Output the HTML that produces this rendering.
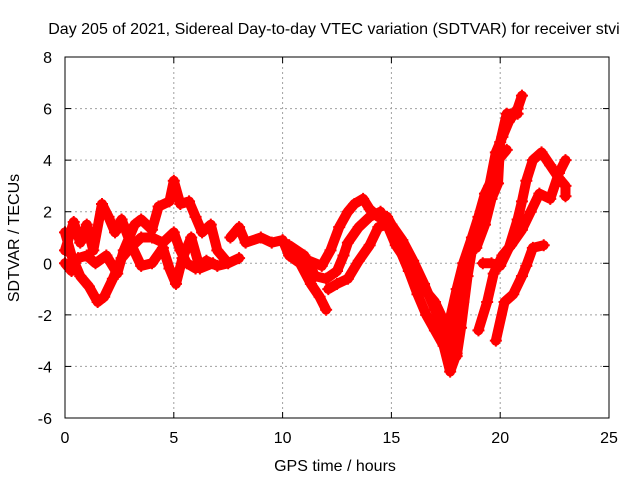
<!DOCTYPE html>
<html><head><meta charset="utf-8"><style>
body{margin:0;background:#fff}
svg{font-family:"Liberation Sans",sans-serif}
</style></head><body>
<svg id="chart" width="640" height="480">
<text x="334" y="34" font-size="16" text-anchor="middle">Day 205 of 2021, Sidereal Day-to-day VTEC variation (SDTVAR) for receiver stvi</text>
<text x="335" y="471" font-size="16" text-anchor="middle">GPS time / hours</text>
<text x="19" y="238" font-size="16" text-anchor="middle" transform="rotate(-90 19 238)">SDTVAR / TECUs</text>
<g id="grid"></g><g id="marks"></g>
<rect x="65" y="57" width="544" height="361" fill="none" stroke="#000"/>
</svg>
<script>
const xTicks=[0,5,10,15,20,25];
const yTicks=[-6,-4,-2,0,2,4,6,8];
const t1=[[0,1.2],[0.3,0.3],[0.7,-0.5],[1.1,-0.9],[1.5,-1.5],[1.8,-1.3],[2.2,-0.6],[2.6,0.2],[3,0.6],[3.5,1],[4,1],[4.5,0.8],[5,1.2],[5.3,0.5],[5.6,0],[6,-0.2],[6.5,0.1],[7,-0.1],[7.5,0],[8,0.2]];
const t2=[[0,0],[0.3,-0.3],[0.6,0.2],[1,0.3],[1.4,0],[1.9,0.3],[2.4,-0.4],[2.7,0.5],[3.2,1.5],[3.5,1.7],[4,1.3],[4.3,2.2],[4.8,2.4],[5,3.2],[5.3,2.3],[5.7,2.4],[6,1.8],[6.3,1.2],[6.7,1.5],[7,0.5],[7.4,0.1]];
const t3=[[0,0.5],[0.4,1.6],[0.7,0.8],[1,1.5],[1.3,0.5],[1.7,2.3],[2,1.8],[2.3,1.2],[2.6,1.7],[3,0.8],[3.5,-0.1],[4,0],[4.5,0.6],[4.8,-0.2],[5.1,-0.8],[5.4,0.2],[5.8,1],[6.2,-0.2],[6.8,0]];
const t4=[[7.6,1],[8,1.4],[8.3,0.8],[9,1],[9.5,0.8],[10,0.9],[10.3,0.3],[10.8,0],[11.3,-0.8],[11.7,-1.3],[12,-1.8]];
const t5=[[10.3,0.7],[11,0.3],[11.5,-0.5],[12,-0.6],[12.5,-0.3],[12.8,0.3],[13,0.8],[13.5,1.4],[14,1.8],[14.5,2],[15,1.2],[15.4,0.5],[15.8,-0.3],[16.2,-1.2],[16.6,-2],[17,-2.6],[17.4,-3.2],[17.7,-4.2],[18,-3.5],[18.3,-1.5]];
const t6=[[11.2,0.1],[11.8,-0.1],[12.2,0.5],[12.6,1.4],[13,2],[13.3,2.3],[13.7,2.5],[14,2.1],[14.4,1.8],[14.8,1.8],[15,1.5],[15.5,0.9],[16,0.1],[16.5,-0.8],[17,-1.8],[17.3,-2.4],[17.6,-3],[18,-3.6],[18.2,-2.5],[18.5,-0.5],[18.8,1],[19.1,2],[19.5,3],[19.8,4.3],[20.1,4.9],[20.4,5.5],[20.8,6],[21,6.5]];
const t7=[[12.1,-1],[12.5,-0.8],[13,-0.6],[13.5,0.1],[14,0.7],[14.4,1.4],[14.8,1.5],[15.2,0.7],[15.6,0.2],[16,-0.5],[16.5,-1],[17,-1.5],[17.5,-2.4],[17.8,-3.3],[18,-2.5],[18.3,-0.8],[18.6,0.5],[18.9,0.6],[19.3,1.5],[19.6,2.5],[19.9,3.1],[20,4.7],[20.3,5.8],[20.6,5.8],[20.8,5.8]];
const t8=[[17.6,-2.5],[18,-1],[18.3,0],[18.7,1],[19,1.8],[19.3,2.7],[19.7,3.4],[20,4.1],[20.3,4.4]];
const t9=[[19,-2.6],[19.4,-1.5],[19.7,-0.4],[20.1,0.3],[20.5,0.7],[21,1.3],[21.4,2],[21.8,2.7],[22.3,2.5],[22.7,3.5],[23,4]];
const t10=[[19.8,-3],[20.2,-1.5],[20.6,-1.2],[21,-0.5],[21.2,-0.1],[21.5,0.6],[22,0.7]];
const t11=[[19.2,0],[19.6,0],[20,-0.1],[20.4,0.6],[20.8,1.7],[21,2.4],[21.2,3.2],[21.5,4],[21.9,4.3],[22.3,3.8],[22.7,3.3],[23,3],[23,2.6]];
const tracks=[t1,t2,t3,t4,t5,t6,t7,t8,t9,t10,t11];
const NS="http://www.w3.org/2000/svg";
const X=t=>65+t*544/25, Y=v=>418-(v+6)*361/14;
const grid=document.getElementById('grid'), marks=document.getElementById('marks');
function mk(tag,attrs,parent){const e=document.createElementNS(NS,tag);for(const k in attrs)e.setAttribute(k,attrs[k]);parent.appendChild(e);return e;}
xTicks.forEach(t=>{
  if(t>0&&t<25){const g=mk('line',{x1:X(t),x2:X(t),y1:57,y2:418,stroke:'#a0a0a0','stroke-dasharray':'2,3'},grid);
  
  }
  mk('line',{x1:X(t),x2:X(t),y1:418,y2:412,stroke:'#000'},grid);
  mk('line',{x1:X(t),x2:X(t),y1:57,y2:63,stroke:'#000'},grid);
  const l=mk('text',{x:X(t),y:443,'font-size':16,'text-anchor':'middle'},grid);l.textContent=t;
  
  
});
yTicks.forEach(v=>{
  if(v>-6&&v<8){const g=mk('line',{x1:65,x2:609,y1:Y(v),y2:Y(v),stroke:'#a0a0a0','stroke-dasharray':'2,3'},grid);
  
  }
  mk('line',{x1:65,x2:71,y1:Y(v),y2:Y(v),stroke:'#000'},grid);
  mk('line',{x1:603,x2:609,y1:Y(v),y2:Y(v),stroke:'#000'},grid);
  const l=mk('text',{x:52,y:Y(v)+6,'font-size':16,'text-anchor':'end'},grid);l.textContent=v;
  
  
});
tracks.forEach(tr=>{
  const p=mk('polyline',{points:tr.map(d=>X(d[0])+','+Y(d[1])).join(' '),fill:'none',stroke:'#f00','stroke-width':10,'stroke-linejoin':'round','stroke-linecap':'round'},marks);
  
  
  tr.forEach(d=>{
    const m=mk('path',{d:`M${X(d[0])-6},${Y(d[1])}h12M${X(d[0])},${Y(d[1])-6}v12`,stroke:'#f00','stroke-width':2},marks);
    
    
  });
});
</script>
</body></html>
